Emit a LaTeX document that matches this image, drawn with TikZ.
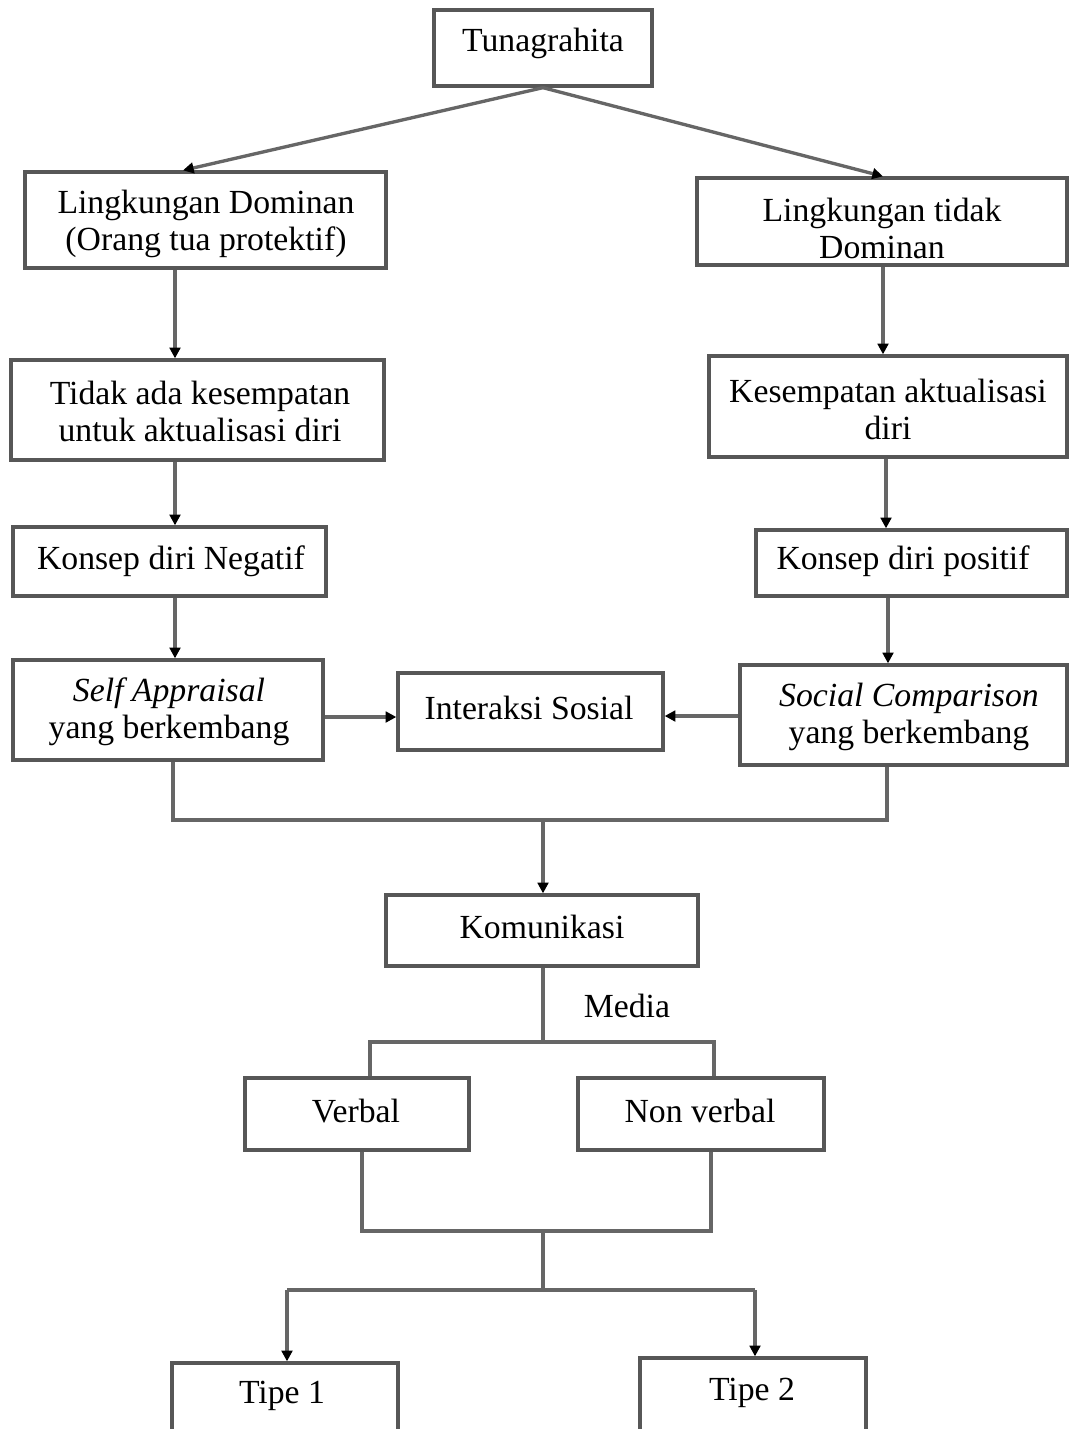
\documentclass[tikz,border=0pt]{standalone}
\usepackage{fontspec}
\setmainfont{Liberation Serif}
\usetikzlibrary{arrows.meta,fit,calc}
\definecolor{linegray}{gray}{0.40}
\definecolor{boxgray}{gray}{0.34}
\tikzset{
  box/.style={draw=boxgray, line width=2.5pt, inner sep=0pt, fill=white},
  txt/.style={inner sep=0pt, align=center, font=\fontsize{25.3}{27.8}\selectfont, text=black},
  conn/.style={draw=linegray, line width=2.5pt},
  arr/.style={conn, -{Triangle[width=8pt,length=8pt,color=black]}}
}
\begin{document}
\begin{tikzpicture}[x=0.75pt,y=-0.75pt]
\useasboundingbox (0,0) rectangle (1069,1429);
\clip (0,0) rectangle (1069,1429);
\fill[white] (0,0) rectangle (1069,1429);

% boxes
\node[box, fit={(434,10) (652,86)}] (tuna) {};
\node[box, fit={(25,172) (386,268)}] (ld) {};
\node[box, fit={(697,178) (1067,265)}] (ltd) {};
\node[box, fit={(11,360) (384,460)}] (tak) {};
\node[box, fit={(709,356) (1067,457)}] (kes) {};
\node[box, fit={(13,527) (326,596)}] (kn) {};
\node[box, fit={(756,530) (1067,596)}] (kp) {};
\node[box, fit={(13,660) (323,760)}] (sa) {};
\node[box, fit={(398,673) (663,750)}] (is) {};
\node[box, fit={(740,665) (1067,765)}] (sc) {};
\node[box, fit={(386,895) (698,966)}] (kom) {};
\node[box, fit={(245,1078) (469,1150)}] (verb) {};
\node[box, fit={(578,1078) (824,1150)}] (nv) {};
\node[box, fit={(172,1363) (398,1460)}] (t1) {};
\node[box, fit={(640,1358) (866,1460)}] (t2) {};

% texts
\node[txt] (tunaT) at (543,43) {Tunagrahita};
\node[txt] (ldT) at (206,224) {Lingkungan Dominan\\(Orang tua protektif)};
\node[txt] (ltdT) at (882,228) {Lingkungan tidak\\Dominan};
\node[txt] (takT) at (200,411.5) {Tidak ada kesempatan\\untuk aktualisasi diri};
\node[txt] (kesT) at (888,409) {Kesempatan aktualisasi\\diri};
\node[txt] (knT) at (171,561) {Konsep diri Negatif};
\node[txt] (kpT) at (903,561) {Konsep diri positif};
\node[txt] (saT) at (169,711.5) {\textit{Self Appraisal}\\yang berkembang};
\node[txt] (isT) at (529,708) {Interaksi Sosial};
\node[txt] (scT) at (909,717) {\textit{Social Comparison}\\yang berkembang};
\node[txt] (komT) at (542,927) {Komunikasi};
\node[txt] (media) at (627,1006) {Media};
\node[txt] (verbT) at (356,1111) {Verbal};
\node[txt] (nvT) at (700,1111) {Non verbal};
\node[txt] (t1T) at (282,1396) {Tipe 1};
\node[txt] (t2T) at (752,1393) {Tipe 2};

% helper coordinates
\coordinate (xL) at (175,0);
\coordinate (xR1) at (883,0);
\coordinate (xR2) at (886,0);
\coordinate (xR3) at (888,0);
\coordinate (yA) at (0,717);
\coordinate (yB) at (0,716);
\coordinate (m1) at (173,820);
\coordinate (m2) at (887,820);
\coordinate (m) at (543,820);
\coordinate (b) at (543,1042);
\coordinate (bL) at (370,1042);
\coordinate (bR) at (714,1042);
\coordinate (c) at (543,1231);
\coordinate (cL) at (362,1231);
\coordinate (cR) at (711,1231);
\coordinate (d) at (543,1290);
\coordinate (dL) at (287,1290);
\coordinate (dR) at (755,1290);

% connectors
\draw[arr] (tuna.south) -- ($(ld.north)+(-22.5,0)$);
\draw[arr] (tuna.south) -- ($(ltd.north)+(1,0)$);
\draw[arr] (ld.south -| xL) -- (tak.north -| xL);
\draw[arr] (ltd.south -| xR1) -- (kes.north -| xR1);
\draw[arr] (tak.south -| xL) -- (kn.north -| xL);
\draw[arr] (kes.south -| xR2) -- (kp.north -| xR2);
\draw[arr] (kn.south -| xL) -- (sa.north -| xL);
\draw[arr] (kp.south -| xR3) -- (sc.north -| xR3);
\draw[arr] (sa.east |- yA) -- (is.west |- yA);
\draw[arr] (sc.west |- yB) -- (is.east |- yB);
\draw[conn] (sa.south -| m1) -- (m1) -- (m2) -- (sc.south -| m2);
\draw[arr] (m) -- (kom.north -| m);
\draw[conn] (kom.south -| b) -- (b);
\draw[conn] (verb.north -| bL) -- (bL) -- (bR) -- (nv.north -| bR);
\draw[conn] (verb.south -| cL) -- (cL) -- (cR) -- (nv.south -| cR);
\draw[conn] (c) -- (d);
\draw[conn] (dL) -- (dR);
\draw[arr] (dL) -- (t1.north -| dL);
\draw[arr] (dR) -- (t2.north -| dR);
\end{tikzpicture}
\end{document}
